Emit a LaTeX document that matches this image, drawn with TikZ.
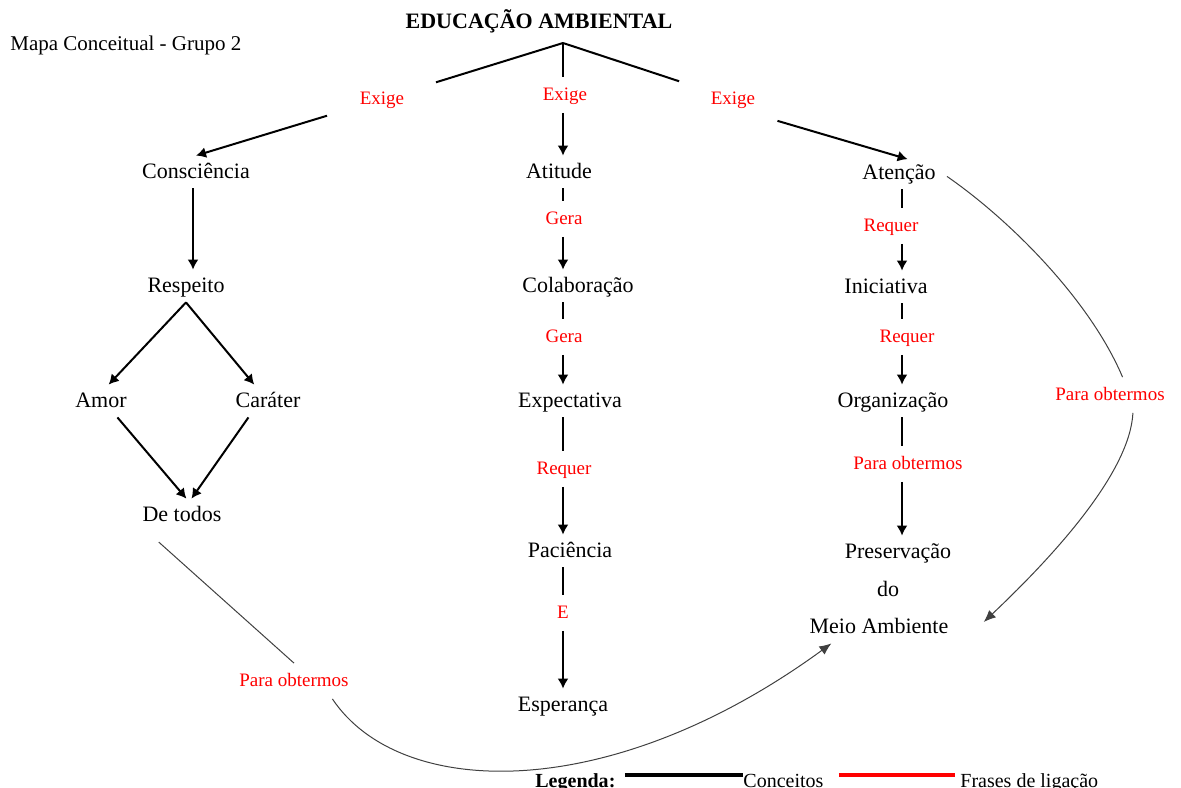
\documentclass[tikz,border=0pt]{standalone}
\usepackage{fontspec}
\setmainfont{Liberation Serif}
\usetikzlibrary{positioning, arrows, arrows.meta, calc}

\begin{document}
\begin{tikzpicture}[x=0.5pt, y=-0.5pt,
	concept/.style={rectangle, text centered, inner sep=3pt, text height=8pt, text depth=2pt, 
	font=\fontsize{11}{13}\selectfont},
	phrase/.style={rectangle, text centered, inner sep=4.25pt, text height=7pt, text depth=2pt, 
	text=red, font=\fontsize{9.5}{11}\selectfont},
	link/.style={-{Latex[length=5pt, width=5.5pt]}, line width=1.0pt},
	stem/.style={line width=1.0pt},
	thinLink/.style={line width=0.5pt, draw=black!75},
	legendText/.style={anchor=base west, inner sep=0pt, font=\fontsize{10}{12}\selectfont}]
			
			\useasboundingbox (0,0) rectangle (1181,787);
			
			%Title
			\node (title) at (539,21) [font=\bfseries\fontsize{11}{13}\selectfont]{EDUCAÇÃO AMBIENTAL};
			\node (mapName) at (10,45) [anchor=west, inner sep=0pt, 
			font=\fontsize{10.5}{12}\selectfont]{Mapa Conceitual - Grupo 2};
			\coordinate (junction) at (563,43);
			\coordinate (midAxis) at (563,0);
			\coordinate (rightAxis) at (902,0);
			
			%Exige
			\node (exigeLeft) at (382,99) [phrase]{Exige};
			\node (exigeMid) at (565,95) [phrase]{Exige};
			\node (exigeRight) at (733,99) [phrase]{Exige};
			
			%Left column
			\node (consciencia) at (196,172) [concept]{Consciência};
			\node (respeito) at (186,286) [concept]{Respeito};
			\node (amor) at (101,401) [concept]{Amor};
			\node (carater) at (268,401) [concept]{Caráter};
			\node (deTodos) at (182,515) [concept]{De todos};
			\node (paraLeft) at (294,681) [phrase]{Para obtermos};
			
			%Middle column
			\node (atitude) at (559,172) [concept]{Atitude};
			\node (geraA) at (564,219) [phrase]{Gera};
			\node (colaboracao) at (578,286) [concept]{Colaboração};
			\node (geraB) at (564,337) [phrase]{Gera};
			\node (expectativa) at (570,401) [concept]{Expectativa};
			\node (requerMid) at (564,469) [phrase]{Requer};
			\node (paciencia) at (570,551) [concept]{Paciência};
			\node (eLink) at (563,613) [phrase]{E};
			\node (esperanca) at (563,705) [concept]{Esperança};
			
			%Right column
			\node (atencao) at (899,173) [concept]{Atenção};
			\node (requerA) at (891,226) [phrase]{Requer};
			\node (iniciativa) at (886,287) [concept]{Iniciativa};
			\node (requerB) at (907,337) [phrase]{Requer};
			\node (organizacao) at (893,401) [concept]{Organização};
			\node (paraMid) at (908,464) [phrase]{Para obtermos};
			\node (preservacao) at (898,552) [concept]{Preservação};
			\node (preservacaoDo) at (888,590) [concept]{do};
			\node (meioAmbiente) at (879,627) [concept]{Meio Ambiente};
			\node (paraRight) at (1110,395) [phrase]{Para obtermos};
			
			%Links from the title
			\draw[stem, shorten >=12pt] (junction) -- (exigeLeft);
			\draw[stem] (junction) -- (junction |- exigeMid.north);
			\draw[stem, shorten >=12pt] (junction) -- (exigeRight);
			\draw[link, shorten <=12.5pt] (exigeLeft) -- (consciencia.north);
			\draw[link] (exigeMid.south -| junction) -- (atitude.north -| junction);
			\draw[link, shorten <=7pt, shorten >=-4.5pt] (exigeRight.south east) -- (atencao.north);
			
			%Links left
			\draw[link] ([xshift=-1.5pt]consciencia.south) -- ([xshift=-1.5pt]consciencia.south |- respeito.north);
			\draw[link] (respeito.south) -- (amor.65);
			\draw[link] (respeito.south) -- (carater.130);
			\draw[link] (amor.-45) -- (deTodos.75);
			\draw[link] (carater.-140) -- (deTodos.60);
			
			%Links middle
			\draw[stem] (atitude.south -| midAxis) -- (geraA.north -| midAxis);
			\draw[link] (geraA.south -| midAxis) -- (colaboracao.north -| midAxis);
			\draw[stem] (colaboracao.south -| midAxis) -- (geraB.north -| midAxis);
			\draw[link] (geraB.south -| midAxis) -- (expectativa.north -| midAxis);
			\draw[stem] (expectativa.south -| midAxis) -- (requerMid.north -| midAxis);
			\draw[link] (requerMid.south -| midAxis) -- (paciencia.north -| midAxis);
			\draw[stem] (paciencia.south -| midAxis) -- (eLink.north -| midAxis);
			\draw[link] (eLink.south -| midAxis) -- (esperanca.north -| midAxis);
			
			%Links right
			\draw[stem] (atencao.south -| rightAxis) -- (requerA.north -| rightAxis);
			\draw[link] (requerA.south -| rightAxis) -- (iniciativa.north -| rightAxis);
			\draw[stem] (iniciativa.south -| rightAxis) -- (requerB.north -| rightAxis);
			\draw[link] (requerB.south -| rightAxis) -- (organizacao.north -| rightAxis);
			\draw[stem] (organizacao.south -| rightAxis) -- (paraMid.north -| rightAxis);
			\draw[link] (paraMid.south -| rightAxis) -- (preservacao.north -| rightAxis);
			
			%Curves to Meio Ambiente
			\draw[thinLink, shorten <=8pt] (deTodos.-155) -- (paraLeft.north);
			\draw[thinLink, -{Latex[length=6pt, width=5pt]}] (paraLeft.-25) .. controls (400,800) 
			and (610,805) .. (meioAmbiente.-161);
			\draw[thinLink, shorten <=3pt] (atencao.east) .. controls (1010,220) and (1090,300) .. 
			(paraRight.55);
			\draw[thinLink, -{Latex[length=6pt, width=5pt]}] (paraRight.-38) .. controls (1130,470) 
			and (1060,550) .. ([xshift=14.5pt, yshift=2.5pt]meioAmbiente.east);
			
			%Legend
			\coordinate (legendLine) at (0,775);
			\node (legendTitle) at (535,787) [legendText, font=\bfseries\fontsize{10}{12}\selectfont]{Legenda:};
			\node (conceptsText) at (743,787) [legendText]{Conceitos};
			\node (phrasesText) at (960,787) [legendText]{Frases de ligação};
			\draw[line width=2pt] ([xshift=4.5pt]legendTitle.east |- legendLine) -- 
			(conceptsText.west |- legendLine);
			\draw[line width=2pt, red] ([xshift=7.5pt]conceptsText.east |- legendLine) -- 
			([xshift=-2.5pt]phrasesText.west |- legendLine);
			
\end{tikzpicture}
\end{document}
